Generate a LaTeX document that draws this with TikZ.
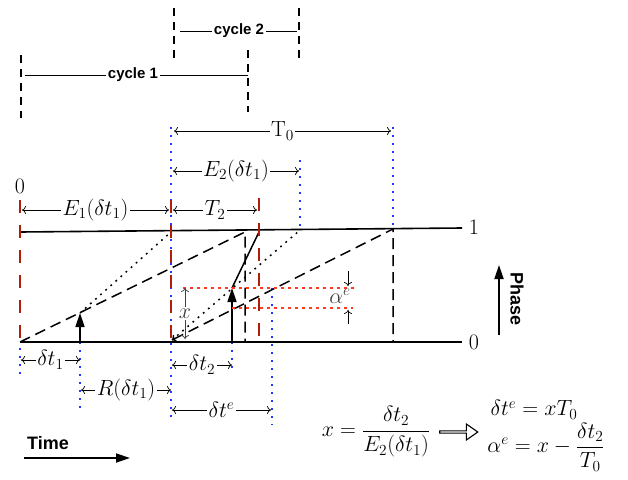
\RequirePackage{fix-cm}
\documentclass[tikz,border=0pt]{standalone}
\usepackage{amsmath}
\usepackage{fontspec}
\newfontfamily\helv{Liberation Sans}
\usepackage{tikz}
\usetikzlibrary{arrows.meta, positioning, calc, shapes.arrows}
\definecolor{cutRed}{HTML}{B01E0A}
\definecolor{markBlue}{HTML}{2238FF}
\definecolor{lvlRed}{HTML}{FF3A1E}

\begin{document}
\begin{tikzpicture}[
    x=1pt, y=-1pt,
    >={To[length=4pt,width=8pt]},
    phaseline/.style={line width=1.6pt},
    cut/.style={cutRed, line width=2.8pt, dash pattern=on 13pt off 12pt},
    guide/.style={markBlue, line width=1.9pt, dash pattern=on 2pt off 6pt},
    cyc/.style={line width=1.2pt, dash pattern=on 8pt off 6pt},
    ramp/.style={line width=1.5pt, dash pattern=on 11pt off 6pt},
    slope/.style={line width=1.5pt, dash pattern=on 1.8pt off 5pt},
    level/.style={lvlRed, line width=1.4pt, dash pattern=on 3pt off 4pt},
    pulse/.style={line width=1.5pt, -{Triangle[length=14pt,width=9pt]}},
    axis/.style={line width=1.8pt, -{Triangle[length=14pt,width=9pt]}},
    dim/.style={<->, line width=0.7pt},
    mfont/.style={font=\fontsize{22}{26}\selectfont},
    lbl/.style={mfont, fill=white, inner sep=1.5pt},
    tag/.style={font=\helv\bfseries\fontsize{15}{18}\selectfont},
    bigtag/.style={font=\helv\bfseries\fontsize{18}{21}\selectfont},
]
\useasboundingbox (0,0) rectangle (628,479);

\coordinate (b0) at (20,342);
\coordinate (b1) at (462,342);
\coordinate (t0) at (20,232);
\coordinate (t1) at (462,228);
\coordinate (p1) at (80,313);
\coordinate (f1) at (245,232);
\coordinate (s1) at (171,232);
\coordinate (o2) at (172,340);
\coordinate (p2) at (232,288);
\coordinate (j2) at (259,232);
\coordinate (s2) at (299,231);
\coordinate (f2) at (393,229);
\coordinate (q2) at (232,308);

\node[tag, fill=white, inner sep=2pt] (cyc2) at (239,31) {cycle 2};
\node[tag, fill=white, inner sep=2pt] (cyc1) at (133,75) {cycle 1};
\draw[cyc] (174,8) -- (174,58);
\draw[cyc] (299,8) -- (299,58);
\draw[cyc] (21,55) -- (21,118);
\draw[cyc] (248,50) -- (248,112);
\draw[line width=0.6pt] (180,31) -- (cyc2) -- (297,31);
\draw[line width=0.6pt] (25,75) -- (cyc1) -- (248,75);

\foreach \x/\a/\b in {171/127/422, 300/160/231, 393/127/229, 20/348/375, 80/342/410, 232/342/373, 272/288/425}
    \draw[guide] (\x,\a) -- (\x,\b);

\draw[dim] (174,131) -- node[lbl]{T$_0$} (391,131);
\draw[dim] (173,171) -- node[lbl]{$E_2(\delta t_1)$} (299,171);
\draw[dim] (22,210) -- node[lbl]{$E_1(\delta t_1)$} (169,210);
\draw[dim] (173,210) -- node[lbl]{$T_2$} (257,210);
\draw[dim] (21,360) -- node[lbl]{$\delta t_1$} (80,360);
\draw[dim] (81,390) -- node[lbl]{$R(\delta t_1)$} (171,390);
\draw[dim] (172,365) -- node[lbl]{$\delta t_2$} (232,365);
\draw[dim] (172,410) -- node[lbl]{$\delta t^e$} (271,410);

\draw[phaseline] (b0) -- (b1);
\draw[phaseline] (t0) -- (t1);
\node[mfont] (top0) at (20,186) {0};
\node[mfont] (one) at (474,227) {1};
\node[mfont] (zero) at (474,342) {0};

\draw[ramp] (b0) -- (f1) -- (f1 |- b0);
\draw[slope] (p1) -- (s1);
\draw[ramp, <-] (o2) -- (f2) -- (f2 |- b0);
\draw[slope] (o2) -- (s2);
\draw[line width=1.5pt] (p2) -- (j2);
\draw[pulse] (p1 |- b0) -- (p1);
\draw[pulse] (p2 |- b0) -- (p2);

\draw[level] (183,288) -- (355,288);
\draw[level] (q2) -- (353,308);

\foreach \x/\a in {20/200, 171/200, 259/198}
    \draw[cut] (\x,\a) -- (\x,342);

\draw[dim, black!75] (185,288) -- node[lbl, text=black!75]{$x$} (185,339);
\draw[->, line width=0.7pt] (348,271) -- (348,286);
\draw[->, line width=0.7pt] (348,324) -- (348,310);
\node[mfont, text=black!75] (alpha) at (340,296) {$\alpha^e$};

\draw[axis] (499,335) -- (499,265);
\node[bigtag, rotate=-90] (phase) at (517,299) {Phase};
\node[bigtag] (time) at (48,443) {Time};
\draw[axis] (24,458) -- (130,458);

\node[mfont] (xdef) at (376,432) {$x = \dfrac{\delta t_2}{E_2(\delta t_1)}$};
\node[single arrow, draw, line width=1.1pt, inner sep=0pt, minimum height=38pt, minimum width=16pt,
    single arrow head extend=3.5pt, single arrow tip angle=70] (impl) at (458,432) {};
\node[mfont] (dte) at (534,410) {$\delta t^e = xT_0$};
\node[mfont] (ae) at (546,447) {$\alpha^e = x - \dfrac{\delta t_2}{T_0}$};
\end{tikzpicture}
\end{document}
